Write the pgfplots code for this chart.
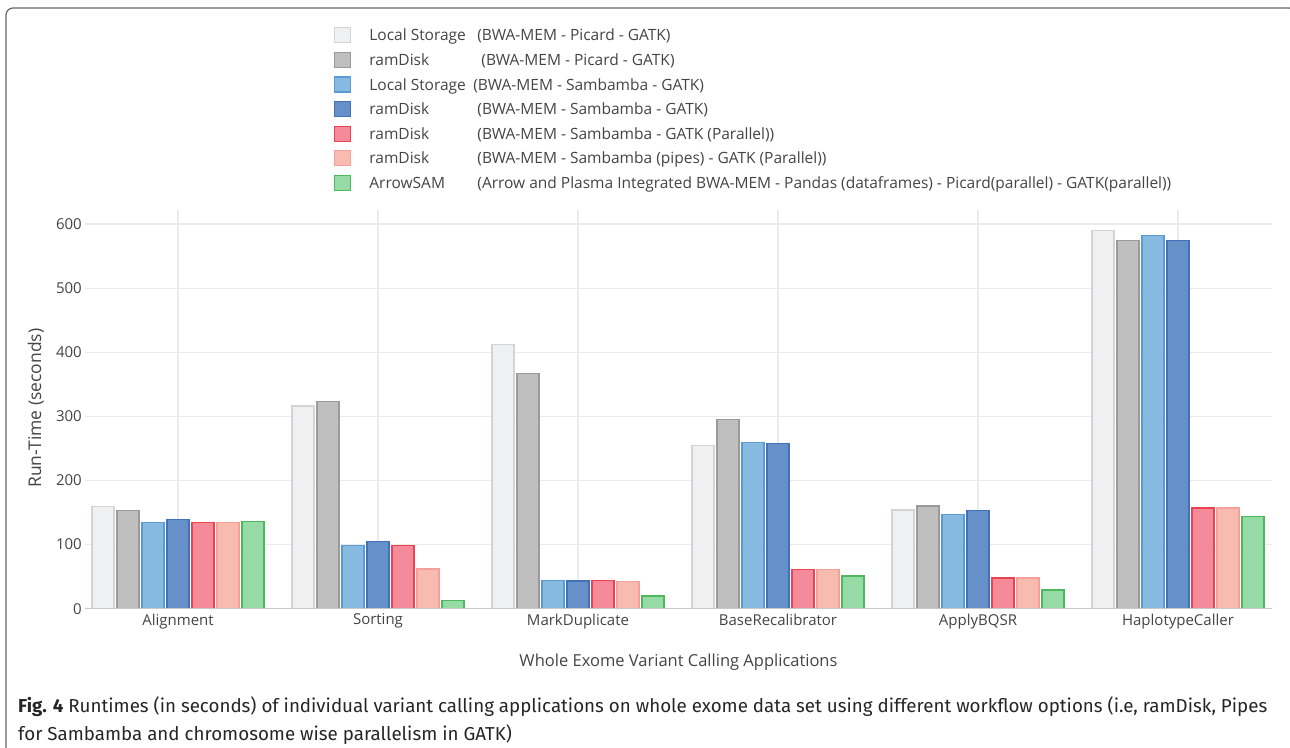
\documentclass[border=0pt]{standalone}
\usepackage{pgfplots}
\pgfplotsset{compat=1.18}
\usepackage{pgfplotstable}
\usepackage{fontspec}
\setmainfont{Open Sans}
\newfontfamily\capfont{Fira Sans}
\definecolor{txt}{HTML}{444444}
\definecolor{gridc}{HTML}{EBEBEB}
\definecolor{basec}{HTML}{C8C8C8}
\definecolor{fA}{HTML}{EFF0F2}\definecolor{dA}{HTML}{D4D4D6}
\definecolor{fB}{HTML}{BFBFBF}\definecolor{dB}{HTML}{9A9A9A}
\definecolor{fC}{HTML}{86BAE0}\definecolor{dC}{HTML}{5B9BD5}
\definecolor{fD}{HTML}{6590C8}\definecolor{dD}{HTML}{4470B8}
\definecolor{fE}{HTML}{F48A9A}\definecolor{dE}{HTML}{E8434F}
\definecolor{fF}{HTML}{F8BBB0}\definecolor{dF}{HTML}{F4A09A}
\definecolor{fG}{HTML}{96DBA6}\definecolor{dG}{HTML}{4DB85C}
\pgfplotstableread{
cat lsp rdp lss rds rdsp rdpp asam
Alignment 159 153 135 139 135 135 136
Sorting 316 323 99 105 99 62 12.5
MarkDuplicate 412 367 44 43 44 42 20
BaseRecalibrator 255 295 259.5 258 61 61 51
ApplyBQSR 154 160 147 153 48 48 29
HaplotypeCaller 590 574 582 574 157 157 144
}\datatable
\begin{document}
\begin{tikzpicture}
\useasboundingbox (0,0) rectangle (1290bp,748bp);
\draw[color=gray!80!black, line width=1.2bp, rounded corners=7bp] (6bp,-20bp) -- (6bp,740bp) -- (1296bp,740bp) -- (1296bp,-20bp);
\begin{axis}[
  at={(85bp,139.3bp)}, anchor=south west,
  width=1187bp, height=398.7bp, scale only axis,
  xmin=-0.465, xmax=5.47, ymin=0, ymax=622,
  axis line style={draw=none},
  xtick={0,1,2,3,4,5},
  xticklabels={Alignment,Sorting,MarkDuplicate,BaseRecalibrator,ApplyBQSR,HaplotypeCaller},
  ytick={0,100,...,600},
  major tick length=0pt,
  xmajorgrids, ymajorgrids,
  major grid style={draw=gridc, line width=1.2bp},
  /pgf/number format/assume math mode=true,
  tick label style={font=\fontsize{15bp}{18bp}\selectfont, text=txt},
  yticklabel style={anchor=east, inner sep=0pt, xshift=-3bp},
  xticklabel style={anchor=north, inner sep=0pt, yshift=-5bp},
  ylabel={Run-Time (seconds)},
  ylabel style={at={(axis description cs:-0.0413,0.503)}, anchor=center, font=\fontsize{17.5bp}{20bp}\selectfont, text=txt},
  xlabel={Whole Exome Variant Calling Applications},
  xlabel style={at={(axis description cs:0.5,-0.1337)}, anchor=center, font=\fontsize{16.5bp}{20bp}\selectfont, text=txt},
  ybar, bar width=0.11, bar shift=0pt,
  legend cell align=left,
  legend image code/.code={\draw[#1, line width=1.2bp] (0bp,-7bp) rectangle (16bp,8bp);},
  legend style={at={(axis description cs:0.2098,1.459)}, anchor=north west, draw=none, fill=none,
    inner sep=0pt, row sep=8.4bp, column sep=18bp, font=\fontsize{15.5bp}{18bp}\selectfont, text=txt,
    nodes={inner sep=0pt}},
]
\addplot[fill=fA, draw=dA, line width=1.3bp] table[x expr=\coordindex-0.375, y=lsp] {\datatable};
\addlegendentry{\makebox[108bp][l]{Local Storage}(BWA-MEM - Picard - GATK)}
\addplot[fill=fB, draw=dB, line width=1.3bp] table[x expr=\coordindex-0.25, y=rdp] {\datatable};
\addlegendentry{\makebox[112bp][l]{ramDisk}(BWA-MEM - Picard - GATK)}
\addplot[fill=fC, draw=dC, line width=1.3bp] table[x expr=\coordindex-0.125, y=lss] {\datatable};
\addlegendentry{\makebox[104bp][l]{Local Storage}(BWA-MEM - Sambamba - GATK)}
\addplot[fill=fD, draw=dD, line width=1.3bp] table[x expr=\coordindex, y=rds] {\datatable};
\addlegendentry{\makebox[108bp][l]{ramDisk}(BWA-MEM - Sambamba - GATK)}
\addplot[fill=fE, draw=dE, line width=1.3bp] table[x expr=\coordindex+0.125, y=rdsp] {\datatable};
\addlegendentry{\makebox[108bp][l]{ramDisk}(BWA-MEM - Sambamba - GATK (Parallel))}
\addplot[fill=fF, draw=dF, line width=1.3bp] table[x expr=\coordindex+0.25, y=rdpp] {\datatable};
\addlegendentry{\makebox[108bp][l]{ramDisk}(BWA-MEM - Sambamba (pipes) - GATK (Parallel))}
\addplot[fill=fG, draw=dG, line width=1.3bp] table[x expr=\coordindex+0.375, y=asam] {\datatable};
\addlegendentry{\makebox[108bp][l]{ArrowSAM}(Arrow and Plasma Integrated BWA-MEM - Pandas (dataframes) - Picard(parallel) - GATK(parallel))}
\draw[basec, line width=1.6bp] (rel axis cs:0,0) -- (rel axis cs:1,0);
\end{axis}
\node[anchor=base west, inner sep=0pt, font=\capfont\fontsize{18.75bp}{22bp}\selectfont, text=black!85] at (18bp,36bp) {\textbf{Fig. 4} Runtimes (in seconds) of individual variant calling applications on whole exome data set using different workflow options (i.e, ramDisk, Pipes};
\node[anchor=base west, inner sep=0pt, font=\capfont\fontsize{18.75bp}{22bp}\selectfont, text=black!85] at (18bp,8bp) {for Sambamba and chromosome wise parallelism in GATK)};
\end{tikzpicture}
\end{document}
